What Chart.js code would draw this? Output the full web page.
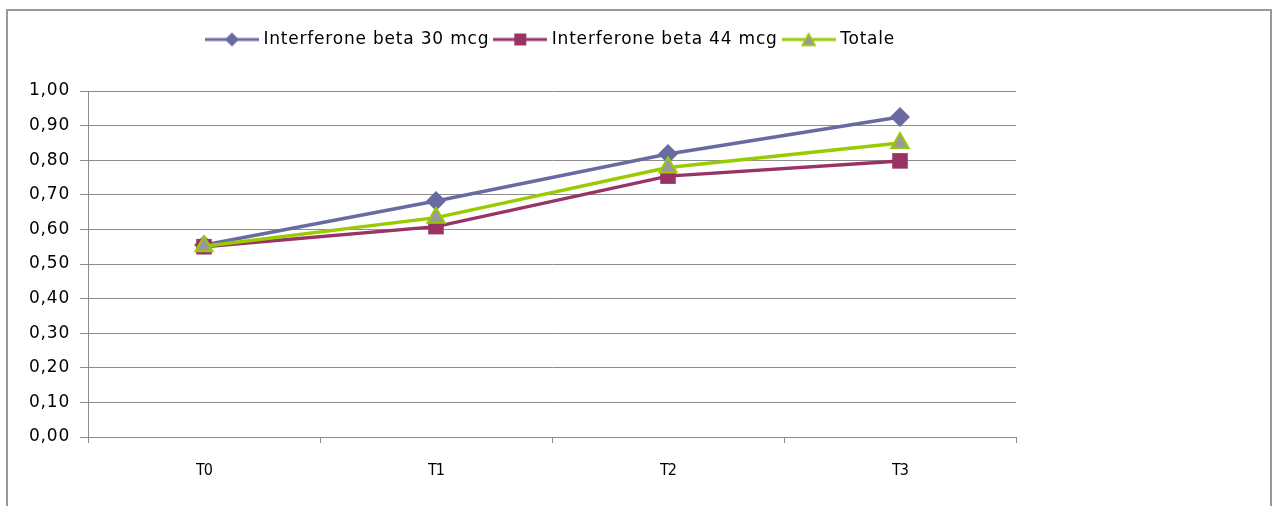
<!DOCTYPE html>
<html>
<head>
<meta charset="utf-8">
<script src="https://cdn.jsdelivr.net/npm/chart.js@4.4.0/dist/chart.umd.min.js"></script>
<style>
  html, body { margin: 0; padding: 0; background: #fff; overflow: hidden; }
  #frame {
    position: absolute; left: 6px; top: 9px; width: 1262px; height: 520px;
    border: 2px solid #9a9a9a; box-sizing: content-box;
  }
  #wrap { position: absolute; left: 8px; top: 11px; width: 1088px; height: 495px; }
</style>
</head>
<body>
<div id="frame"></div>
<div id="wrap"><canvas id="chart" width="1088" height="495"></canvas></div>
<script>
// data
const categories = ['T0', 'T1', 'T2', 'T3'];
const seriesNames = ['Interferone beta 30 mcg', 'Interferone beta 44 mcg', 'Totale'];
const beta30 = [0.555, 0.682, 0.818, 0.925];
const beta44 = [0.550, 0.608, 0.754, 0.798];
const totale = [0.551, 0.634, 0.779, 0.850];
const yTicks = [0, 0.1, 0.2, 0.3, 0.4, 0.5, 0.6, 0.7, 0.8, 0.9, 1.0];

const colBeta30 = '#6a6aa3';
const colBeta44 = '#993366';
const colTotale = '#99cc00';
const gridCol = '#8c8c8c';

// small legend swatch: line with marker, excel style
function makeSwatch(color, marker, fill) {
    const c = document.createElement('canvas');
    c.width = 54;
    c.height = 16;
    const ctx = c.getContext('2d');
    ctx.strokeStyle = color;
    ctx.lineWidth = 3;
    ctx.beginPath();
    ctx.moveTo(0, 8);
    ctx.lineTo(54, 8);
    ctx.stroke();
    ctx.fillStyle = fill || color;
    ctx.beginPath();
    if (marker === 'diamond') {
        ctx.moveTo(27, 1); ctx.lineTo(34, 8); ctx.lineTo(27, 15); ctx.lineTo(20, 8);
        ctx.closePath();
        ctx.fill();
    } else if (marker === 'square') {
        ctx.rect(21, 2, 12, 12);
        ctx.fill();
    } else {
        ctx.moveTo(27, 2); ctx.lineTo(33.5, 14); ctx.lineTo(20.5, 14);
        ctx.closePath();
        ctx.fill();
        ctx.lineWidth = 1.5;
        ctx.stroke();
    }
    return c;
}

const swatches = [
    makeSwatch(colBeta30, 'diamond'),
    makeSwatch(colBeta44, 'square'),
    makeSwatch(colTotale, 'triangle', '#999999')
];

// push the plot area down below the legend, and widen the text a bit
const tweaks = {
    id: 'tweaks',
    beforeLayout(chart) {
        chart.ctx.letterSpacing = '0.8px';
        const lg = chart.legend;
        if (lg && !lg._gapPatched) {
            const fit = lg.fit;
            lg.fit = function() {
                fit.call(this);
                this.height += 33;
            };
            lg._gapPatched = true;
        }
    },
    beforeDraw(chart) {
        chart.ctx.letterSpacing = '0.8px';
    },
    afterDatasetsDraw(chart) {
        // x labels are drawn after this (ticks.z = 1), narrower
        chart.ctx.letterSpacing = '-1px';
    }
};

new Chart(document.getElementById('chart'), {
    type: 'line',
    data: {
        labels: categories,
        datasets: [{
            label: seriesNames[0],
            data: beta30,
            borderColor: colBeta30,
            backgroundColor: colBeta30,
            borderWidth: 3.5,
            pointStyle: 'rectRot',
            pointRadius: 10,
            pointBorderWidth: 0,
            order: 2
        }, {
            label: seriesNames[1],
            data: beta44,
            borderColor: colBeta44,
            backgroundColor: colBeta44,
            borderWidth: 3.5,
            pointStyle: 'rect',
            pointRadius: 11,
            pointBorderWidth: 0,
            order: 1
        }, {
            label: seriesNames[2],
            data: totale,
            borderColor: colTotale,
            backgroundColor: '#999999',
            borderWidth: 3.5,
            pointStyle: 'triangle',
            pointRadius: 10,
            pointBorderWidth: 2,
            pointBorderColor: colTotale,
            order: 0
        }]
    },
    options: {
        responsive: false,
        animation: false,
        layout: {
            padding: { top: 12, right: 80, left: 0, bottom: 0 }
        },
        scales: {
            x: {
                offset: true,
                grid: {
                    offset: true,
                    drawOnChartArea: false,
                    drawTicks: true,
                    tickLength: 6,
                    color: gridCol
                },
                border: { color: gridCol, width: 1 },
                ticks: {
                    z: 1,
                    color: '#000',
                    padding: 18,
                    font: { family: 'Liberation Sans Narrow, DejaVu Sans Condensed', size: 16 }
                },
                afterFit(scale) { scale.height = 69; }
            },
            y: {
                min: 0,
                max: 1,
                afterBuildTicks(scale) {
                    scale.ticks = yTicks.map(v => ({ value: v }));
                },
                grid: {
                    color: gridCol,
                    tickLength: 8
                },
                border: { color: gridCol, width: 1 },
                ticks: {
                    color: '#000',
                    padding: 10,
                    font: { family: 'DejaVu Sans', size: 17 },
                    callback: v => v.toFixed(2).replace('.', ',')
                },
                afterFit(scale) { scale.width = 80; }
            }
        },
        plugins: {
            legend: {
                display: true,
                position: 'top',
                fullSize: false,
                labels: {
                    usePointStyle: true,
                    pointStyleWidth: 46,
                    padding: 8,
                    color: '#000',
                    font: { family: 'DejaVu Sans', size: 17 },
                    generateLabels: function(chart) {
                        return chart.data.datasets.map((ds, i) => ({
                            text: ds.label,
                            pointStyle: swatches[i],
                            fillStyle: 'transparent',
                            strokeStyle: 'transparent',
                            lineWidth: 0,
                            hidden: false,
                            datasetIndex: i,
                            fontColor: '#000'
                        }));
                    }
                }
            },
            tooltip: { enabled: false }
        }
    },
    plugins: [tweaks]
});
</script>
</body>
</html>
